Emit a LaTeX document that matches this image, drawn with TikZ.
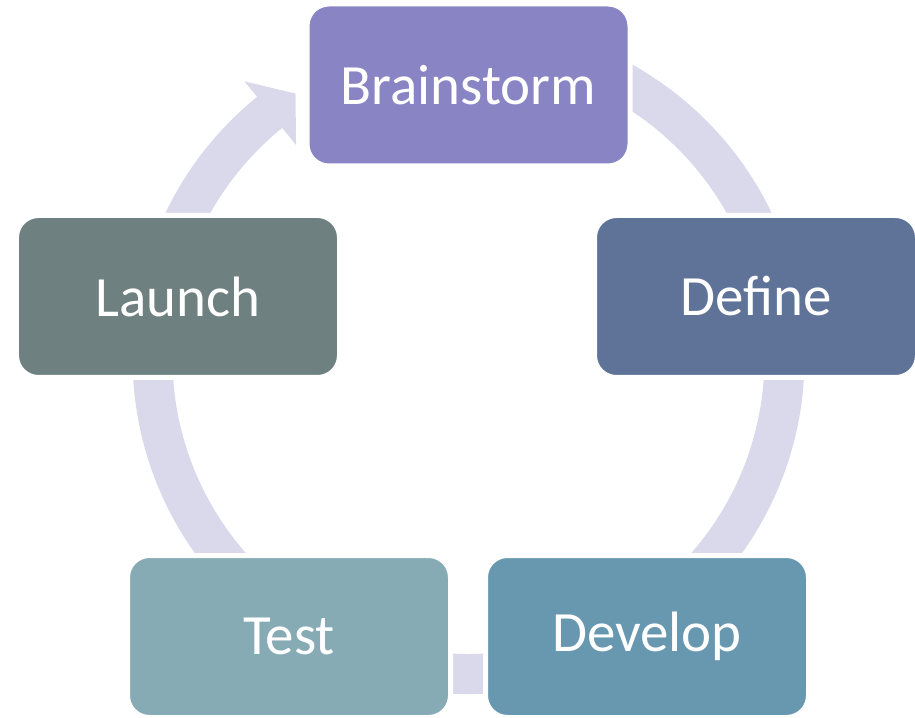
\documentclass[tikz,border=0pt]{standalone}
\usepackage{fontspec}
\setmainfont{Carlito}
\definecolor{cBrain}{HTML}{8985C5}
\definecolor{cDefine}{HTML}{5F7399}
\definecolor{cDevelop}{HTML}{6898B0}
\definecolor{cTest}{HTML}{86ABB5}
\definecolor{cLaunch}{HTML}{6F8080}
\definecolor{cRing}{HTML}{DAD9EC}
\tikzset{
  stagebox/.style={rounded corners=0.44cm, minimum width=6.46cm, minimum height=3.24cm,
    draw=white, line width=0.1cm, text=white, inner sep=0pt,
    font=\fontsize{32.4}{38}\selectfont},
  ringshape/.style={fill=cRing, draw=none}
}
\begin{document}
\begin{tikzpicture}
\useasboundingbox (0,0) rectangle (18.3,14.34);
% cycle ring with arrow head
\coordinate (c) at (9.37,7.18);
\begin{scope}[shift={(c)}]
  \path[ringshape] (129:7.12) -- (123.2:6.32) -- (129:5.48) -- (129:5.92)
     arc[start angle=129, end angle=460, radius=5.92]
     -- (460:6.72)
     arc[start angle=460, end angle=129, radius=6.72] -- cycle;
\end{scope}
% stages
\node[stagebox, fill=cBrain]   (brain)   at (9.37,12.64) {Brainstorm};
\node[stagebox, fill=cDefine]  (define)  at (15.12,8.41) {Define};
\node[stagebox, fill=cDevelop] (develop) at (12.94,1.61) {Develop};
\node[stagebox, fill=cTest]    (test)    at (5.78,1.61)  {Test};
\node[stagebox, fill=cLaunch]  (launch)  at (3.56,8.41)  {Launch};
\end{tikzpicture}
\end{document}
